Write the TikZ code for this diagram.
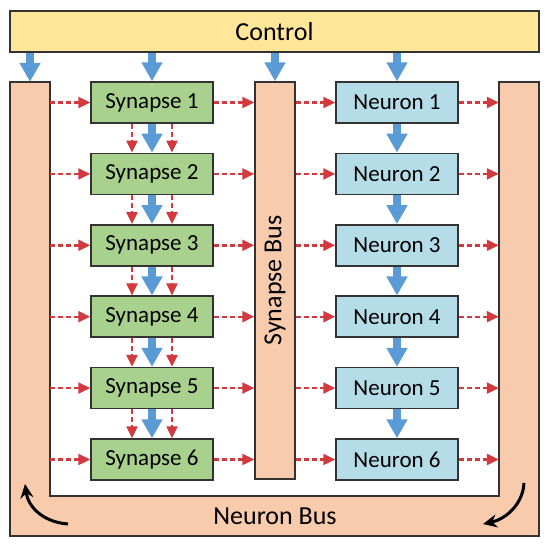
\documentclass[tikz,border=0pt]{standalone}
\usepackage{fontspec}
\setmainfont{Carlito}
\usepackage{xcolor}
\usepackage{tikz}
\usetikzlibrary{arrows.meta}
\definecolor{INK}{HTML}{333333}
\definecolor{CTRL}{HTML}{FFE699}
\definecolor{SYN}{HTML}{A9D18E}
\definecolor{NEU}{HTML}{B4DDE8}
\definecolor{BUS}{HTML}{F8CBAD}
\definecolor{FLOW}{HTML}{5B9BD5}
\definecolor{DATA}{HTML}{D23A3F}

\begin{document}
\begin{tikzpicture}[
  x=1pt, y=-1pt,
  box/.style={draw=INK, line width=1.5pt, minimum width=122pt, minimum height=41pt, inner sep=0pt, font=\fontsize{23}{26}\selectfont},
  syn/.style={box, fill=SYN},
  neu/.style={box, fill=NEU},
  busbox/.style={draw=INK, line width=1.5pt, fill=BUS},
  big/.style={font=\fontsize{26}{30}\selectfont},
  flow/.style={-{Triangle[length=19pt, width=20pt]}, draw=FLOW, line width=8pt},
  data/.style={-{Triangle[length=12pt, width=11pt]}, draw=DATA, line width=2.4pt, dash pattern=on 5pt off 3pt},
  turn/.style={-{Stealth[length=14pt, width=13pt]}, draw=black, line width=3pt},
]
\useasboundingbox (0,0) rectangle (550,549);

% Control
\node[busbox, fill=CTRL, minimum width=529pt, minimum height=41pt, big] (ctrl) at (274.5,31.5) {Control};

% Neuron bus (U shape)
\draw[busbox] (10,82) -- (50,82) -- (50,496) -- (499,496) -- (499,82) -- (539,82) -- (539,536) -- (10,536) -- cycle;
\node[minimum width=40pt, minimum height=414pt, inner sep=0pt] (lbar) at (30,289) {};
\node[minimum width=40pt, minimum height=414pt, inner sep=0pt] (rbar) at (519,289) {};
\node[big] (nbus) at (275,516) {Neuron Bus};

% Synapse bus
\node[busbox, minimum width=40pt, minimum height=397pt, inner sep=0pt] (sbus) at (275,280.5) {};
\node[big, rotate=90] (sbuslabel) at (sbus.center) {Synapse Bus};

% Synapse and neuron columns
\foreach \i in {1,...,6} {
  \node[syn] (s\i) at (152, 102.5+71.4*\i-71.4) {Synapse \i};
  \node[neu] (n\i) at (397, 102.5+71.4*\i-71.4) {Neuron \i};
  \draw[data] (lbar.east |- s\i.west) -- (s\i.west);
  \draw[data] (s\i.east) -- (sbus.west |- s\i.east);
  \draw[data] (sbus.east |- n\i.west) -- (n\i.west);
  \draw[data] (n\i.east) -- (rbar.west |- n\i.east);
}
\foreach \i [evaluate=\i as \j using int(\i+1)] in {1,...,5} {
  \draw[flow] (s\i.south) -- (s\j.north);
  \draw[flow] (n\i.south) -- (n\j.north);
  \draw[data] ([xshift=-20pt]s\i.south) -- ([xshift=-20pt]s\j.north);
  \draw[data] ([xshift=20pt]s\i.south) -- ([xshift=20pt]s\j.north);
}

% control lines
\draw[flow] (ctrl.south -| lbar.north) -- (lbar.north);
\draw[flow] (ctrl.south -| s1.north) -- (s1.north);
\draw[flow] (ctrl.south -| sbus.north) -- (sbus.north);
\draw[flow] (ctrl.south -| n1.north) -- (n1.north);

% circulation on the neuron bus
\coordinate (tl0) at (68,524);
\coordinate (tl1) at (25,484);
\coordinate (tr0) at (524,483);
\coordinate (tr1) at (483,524);
\draw[turn] (tl0) .. controls (42,522) and (28,506) .. (tl1);
\draw[turn] (tr0) .. controls (523,504) and (506,519) .. (tr1);

\end{tikzpicture}
\end{document}
